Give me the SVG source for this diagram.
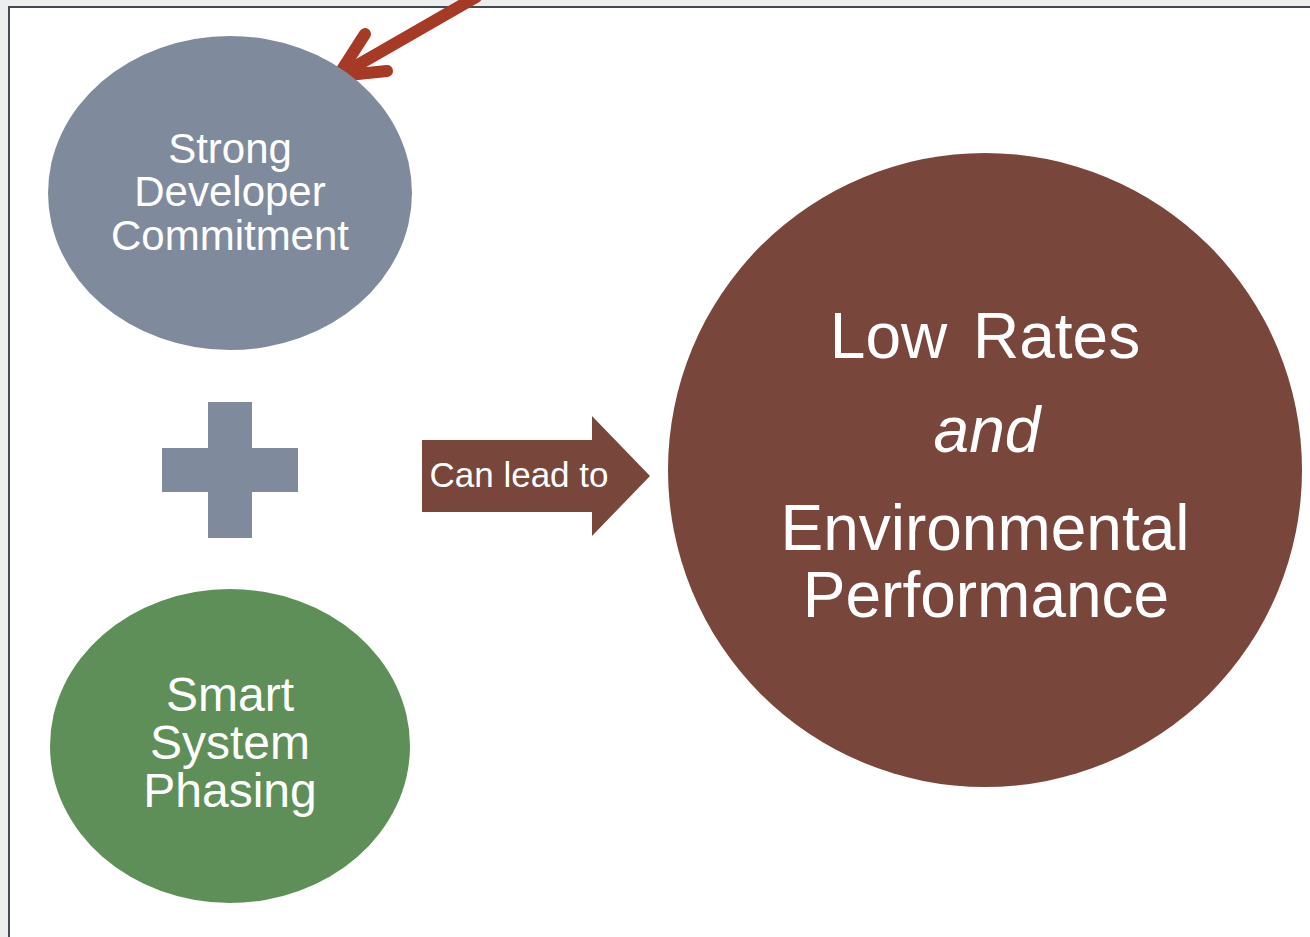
<svg xmlns="http://www.w3.org/2000/svg" width="1310" height="937" viewBox="0 0 1310 937">
<style>
.t{font-family:"Liberation Sans",Arial,sans-serif;fill:#fff;text-anchor:middle}
</style>
<rect x="0" y="0" width="1310" height="937" fill="#eeeeee"/>
<rect x="9" y="7" width="1310" height="940" fill="#ffffff" stroke="#444a52" stroke-width="2"/>
<g id="connectors">
<g id="red-arrow" fill="none" stroke="#a63a25" stroke-width="12" stroke-linecap="round" stroke-linejoin="round">
<line x1="476" y1="-3" x2="342" y2="74"/>
<polyline points="365,34 338,76 387,71"/>
</g>
</g>
<g id="node-strong">
<ellipse cx="230" cy="193" rx="182" ry="157" fill="#7f8b9d"/>
<text class="t" font-size="42"><tspan x="230" y="163">Strong</tspan><tspan x="230" y="206">Developer</tspan><tspan x="230" y="250">Commitment</tspan></text>
</g>
<g id="plus">
<rect x="162" y="448" width="136" height="44" fill="#7f8b9d"/>
<rect x="208" y="402" width="44" height="136" fill="#7f8b9d"/>
</g>
<g id="node-smart">
<ellipse cx="230" cy="746" rx="180" ry="157" fill="#5f8f58"/>
<text class="t" font-size="48"><tspan x="230" y="711">Smart</tspan><tspan x="230" y="759">System</tspan><tspan x="230" y="807">Phasing</tspan></text>
</g>
<g id="node-canlead">
<polygon points="422,440 592,440 592,416 650,476 592,536 592,512 422,512" fill="#79463c"/>
<text class="t" font-size="35" x="519" y="487">Can lead to</text>
</g>
<g id="node-result">
<circle cx="985" cy="470" r="317" fill="#79463c"/>
<text class="t" font-size="64" x="985" y="358" word-spacing="8">Low Rates</text>
<text class="t" font-size="64" x="987" y="452" font-style="italic">and</text>
<text class="t" font-size="64"><tspan x="985" y="550">Environmental</tspan><tspan x="986" y="617">Performance</tspan></text>
</g>
</svg>
